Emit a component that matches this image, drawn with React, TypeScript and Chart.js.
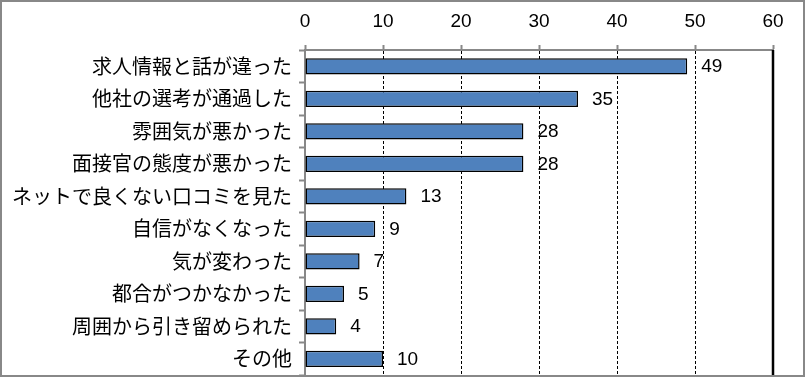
import React, { useEffect, useRef } from "react";
import { Chart, registerables } from "chart.js";

Chart.register(...registerables);

const categories = [
  "求人情報と話が違った",
  "他社の選考が通過した",
  "雰囲気が悪かった",
  "面接官の態度が悪かった",
  "ネットで良くない口コミを見た",
  "自信がなくなった",
  "気が変わった",
  "都合がつかなかった",
  "周囲から引き留められた",
  "その他",
];
const values = [49, 35, 28, 28, 13, 9, 7, 5, 4, 10];
const axisMin = 0;
const axisMax = 60;
const axisStep = 10;

const valueLabels = {
  id: "valueLabels",
  afterDatasetsDraw(chart: any) {
    const ctx = chart.ctx;
    const meta = chart.getDatasetMeta(0);
    ctx.save();
    ctx.font = '19px "Liberation Sans", Arial, sans-serif';
    ctx.fillStyle = "#000";
    ctx.textAlign = "left";
    ctx.textBaseline = "middle";
    meta.data.forEach((bar: any, i: number) => {
      ctx.fillText(String(values[i]), bar.x + 14, bar.y + 1);
    });
    ctx.restore();
  },
};

const frame = {
  id: "frame",
  afterDraw(chart: any) {
    const ctx = chart.ctx;
    const a = chart.chartArea;
    ctx.save();
    ctx.strokeStyle = "#000";
    ctx.lineWidth = 2.5;
    ctx.beginPath();
    ctx.moveTo(a.right, a.top);
    ctx.lineTo(a.right, chart.height);
    ctx.stroke();
    ctx.strokeStyle = "#888888";
    ctx.lineWidth = 2;
    ctx.strokeRect(1, 1, chart.width - 2, chart.height - 2);
    ctx.restore();
  },
};

export default function App() {
  const ref = useRef<HTMLCanvasElement | null>(null);
  useEffect(() => {
    document.body.style.margin = "0";
    const chart = new Chart(ref.current as HTMLCanvasElement, {
      type: "bar",
      data: {
        labels: categories,
        datasets: [
          {
            data: values,
            backgroundColor: "#4F81BD",
            borderColor: "#000",
            borderWidth: 1.5,
            borderSkipped: false,
            barPercentage: 0.5,
            categoryPercentage: 1,
          },
        ],
      },
      options: {
        indexAxis: "y",
        animation: false,
        responsive: false,
        layout: { padding: { left: 0, top: 0, right: 32, bottom: 2 } },
        plugins: { legend: { display: false }, tooltip: { enabled: false } },
        scales: {
          x: {
            position: "top",
            min: axisMin,
            max: axisMax,
            afterFit: (s: any) => {
              s.height = 50;
              s.paddingLeft = 0;
              s.paddingRight = 0;
            },
            ticks: {
              stepSize: axisStep,
              padding: 12,
              color: "#000",
              font: { family: '"Liberation Sans", Arial, sans-serif', size: 19 },
            },
            grid: {
              color: (c: any) =>
                c.tick && (c.tick.value === axisMin || c.tick.value === axisMax) ? "rgba(0,0,0,0)" : "#000",
              lineWidth: 1,
              drawTicks: true,
              tickLength: 5,
              tickColor: "#888888",
              tickWidth: 2,
            },
            border: { display: true, color: "#888888", width: 2, dash: [3, 2] },
          },
          y: {
            afterFit: (s: any) => {
              s.width = 305;
              s.paddingTop = 0;
              s.paddingBottom = 0;
            },
            ticks: {
              padding: 7,
              color: "#000",
              font: { family: '"Noto Sans CJK JP", sans-serif', size: 20 },
            },
            grid: {
              drawOnChartArea: false,
              drawTicks: true,
              tickLength: 6,
              tickColor: "#888888",
              tickWidth: 2,
              offset: true,
            },
            border: { display: true, color: "#888888", width: 2 },
          },
        },
      },
      plugins: [valueLabels, frame],
    } as any);
    return () => chart.destroy();
  }, []);
  return (
    <div style={{ width: 805, height: 377 }}>
      <canvas ref={ref} width={805} height={377} />
    </div>
  );
}
